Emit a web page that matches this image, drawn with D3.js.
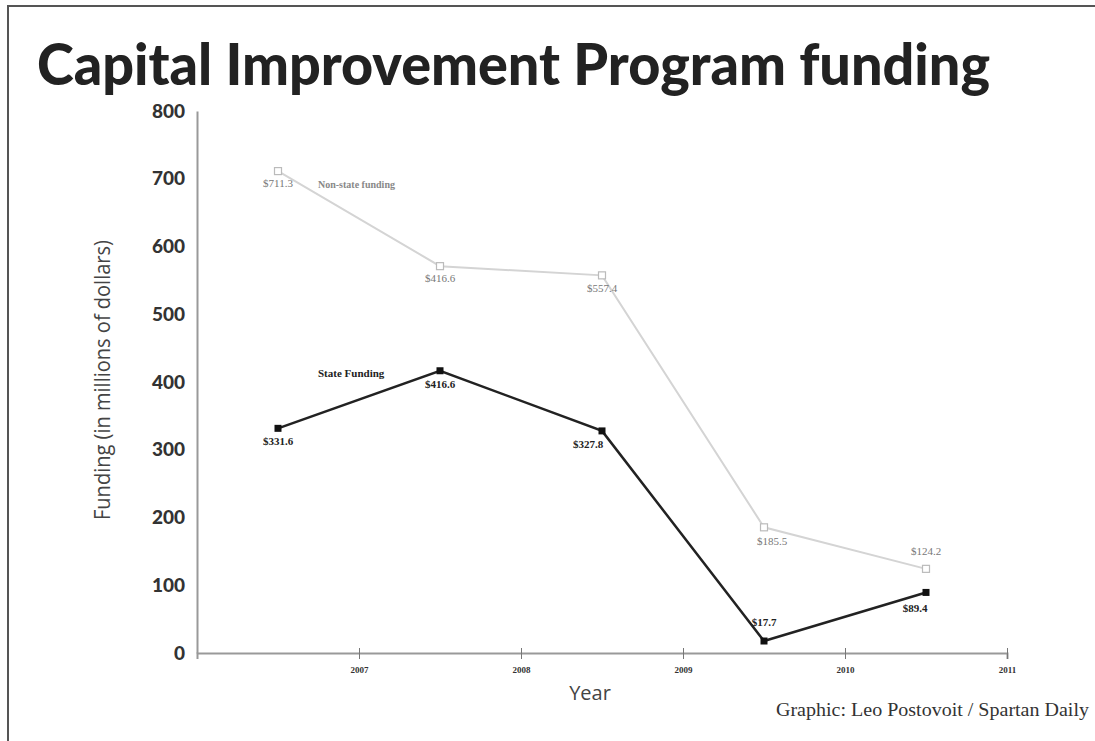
<!DOCTYPE html>
<html lang="en">
<head>
  <meta charset="utf-8">
  <script src="https://cdn.jsdelivr.net/npm/d3@7"></script>
  <style>
    body{margin:0;background:white;}
  </style>
</head>
<body>
  <div id="chart"></div>
  <script>
    // data
    var midYears=[2006.5,2007.5,2008.5,2009.5,2010.5];
    var nonState=[711.3,571.0,557.4,185.5,124.2];
    var state=[331.6,416.6,327.8,17.7,89.4];
    var nonStateLabels=["$711.3","$416.6","$557.4","$185.5","$124.2"];
    var stateLabels=["$331.6","$416.6","$327.8","$17.7","$89.4"];
    var yTicks=[0,100,200,300,400,500,600,700,800];
    var xTicks=[2007,2008,2009,2010,2011];

    var width=1095, height=741;

    var svg=d3.select("#chart").append("svg")
      .attr("width",width)
      .attr("height",height);

    // frame
    svg.append("path")
      .attr("d","M8,"+height+"V6H"+width)
      .attr("fill","none")
      .attr("stroke","#555")
      .attr("stroke-width",2);

    svg.append("text")
      .text("Capital Improvement Program funding")
      .attr("x",37).attr("y",85)
      .attr("textLength",953)
      .attr("lengthAdjust","spacingAndGlyphs")
      .style("font-family","Lato")
      .style("font-weight",900)
      .style("font-size","58px")
      .attr("fill","#222");

    var x=d3.scaleLinear().domain([2006,2011]).range([197,1007]);
    var y=d3.scaleLinear().domain([0,800]).range([653,111]);

    // axes
    var gy=svg.append("g").attr("transform","translate(197,0)")
      .call(d3.axisLeft(y).tickValues(yTicks).tickSize(0).tickPadding(12));
    gy.select(".domain").attr("stroke","#999").attr("stroke-width",2);
    gy.selectAll("text")
      .style("font-family","Lato").style("font-weight",900)
      .style("font-size","19px").attr("fill","#333");

    var gx=svg.append("g").attr("transform","translate(0,653)")
      .call(d3.axisBottom(x).tickValues(xTicks).tickFormat(d3.format("d")).tickSize(6).tickPadding(8));
    gx.select(".domain").attr("stroke","#999").attr("stroke-width",2);
    gx.selectAll(".tick line").attr("stroke","#777").attr("y1",-5);
    gx.selectAll("text")
      .style("font-family","Liberation Serif").style("font-weight","bold")
      .style("font-size","9px").attr("fill","#333");

    svg.append("text")
      .text("Funding (in millions of dollars)")
      .attr("transform","translate(110,380) rotate(-90)")
      .attr("text-anchor","middle")
      .attr("textLength",280)
      .attr("lengthAdjust","spacingAndGlyphs")
      .style("font-family","Open Sans")
      .style("font-size","21px")
      .attr("fill","#444");

    svg.append("text")
      .text("Year")
      .attr("x",590).attr("y",700)
      .attr("text-anchor","middle")
      .style("font-family","Open Sans")
      .style("font-size","20px")
      .attr("fill","#444");

    var line=d3.line()
      .x(function(d,i){return x(midYears[i]);})
      .y(function(d){return y(d);});

    // non-state series
    svg.append("path").datum(nonState)
      .attr("d",line).attr("fill","none")
      .attr("stroke","#d4d4d4").attr("stroke-width",2);
    svg.selectAll(".ns").data(nonState).enter().append("rect")
      .attr("x",function(d,i){return x(midYears[i])-3.5;})
      .attr("y",function(d){return y(d)-3.5;})
      .attr("width",7).attr("height",7)
      .attr("fill","white").attr("stroke","#bbb").attr("stroke-width",1.2);

    // state series
    svg.append("path").datum(state)
      .attr("d",line).attr("fill","none")
      .attr("stroke","#222").attr("stroke-width",2.5);
    svg.selectAll(".st").data(state).enter().append("rect")
      .attr("x",function(d,i){return x(midYears[i])-3.5;})
      .attr("y",function(d){return y(d)-3.5;})
      .attr("width",7).attr("height",7)
      .attr("fill","#111");

    // value labels
    var nsOff=[[0,16],[0,16],[0,17],[8,18],[0,-14]];
    svg.selectAll(".nsl").data(nonState).enter().append("text")
      .text(function(d,i){return nonStateLabels[i];})
      .attr("x",function(d,i){return x(midYears[i])+nsOff[i][0];})
      .attr("y",function(d,i){return y(d)+nsOff[i][1];})
      .attr("text-anchor","middle")
      .style("font-family","Liberation Serif")
      .style("font-size","11px")
      .attr("fill","#777");

    var stOff=[[0,17],[0,17],[-14,17],[0,-15],[-11,20]];
    svg.selectAll(".stl").data(state).enter().append("text")
      .text(function(d,i){return stateLabels[i];})
      .attr("x",function(d,i){return x(midYears[i])+stOff[i][0];})
      .attr("y",function(d,i){return y(d)+stOff[i][1];})
      .attr("text-anchor","middle")
      .style("font-family","Liberation Serif")
      .style("font-weight","bold")
      .style("font-size","11px")
      .attr("fill","#222");

    // series names
    svg.append("text").text("Non-state funding")
      .attr("x",318).attr("y",188)
      .style("font-family","Liberation Serif").style("font-weight","bold")
      .style("font-size","10px").attr("fill","#888");
    svg.append("text").text("State Funding")
      .attr("x",318).attr("y",377)
      .style("font-family","Liberation Serif").style("font-weight","bold")
      .style("font-size","11px").attr("fill","#222");

    svg.append("text")
      .text("Graphic: Leo Postovoit / Spartan Daily")
      .attr("x",1089).attr("y",716)
      .attr("text-anchor","end")
      .attr("textLength",313)
      .attr("lengthAdjust","spacingAndGlyphs")
      .style("font-family","Liberation Serif")
      .style("font-size","19px")
      .attr("fill","#333");
  </script>
</body>
</html>
